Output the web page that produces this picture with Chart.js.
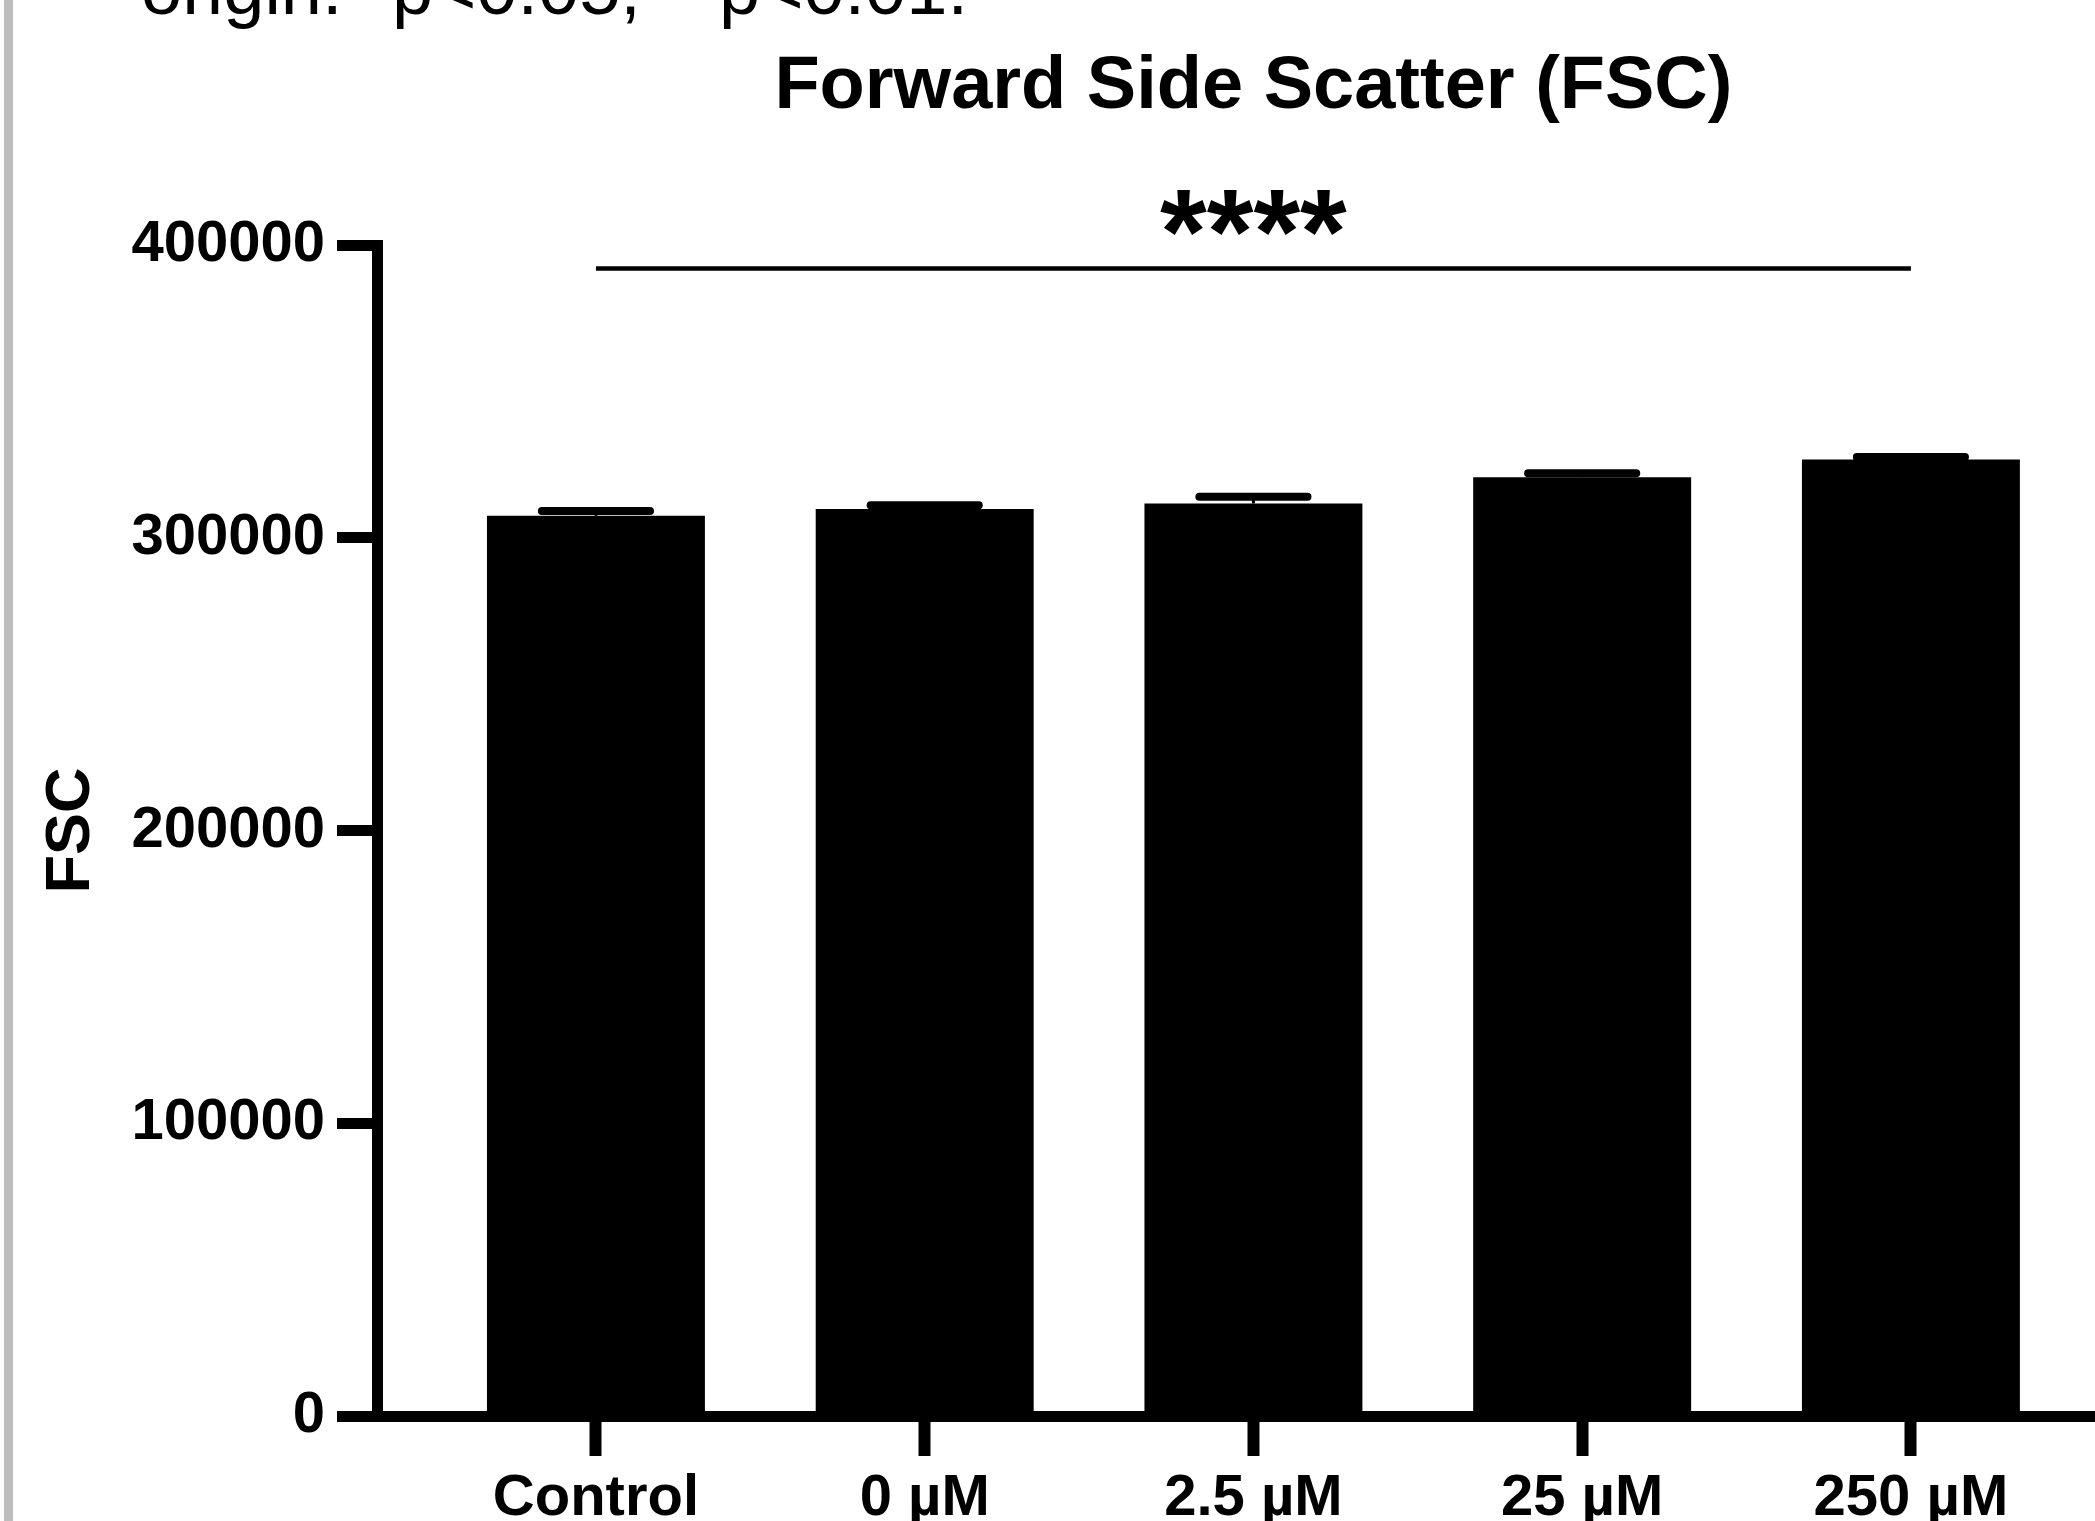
<!DOCTYPE html>
<html lang="en">
<head>
<meta charset="UTF-8">
<title>Forward Side Scatter (FSC)</title>
<script src="https://cdn.jsdelivr.net/npm/chart.js@4.4.1/dist/chart.umd.min.js"></script>
<style>
    html, body {
        margin: 0;
        padding: 0;
        background: #fff;
        overflow: hidden;
    }
    canvas {
        display: block;
    }
</style>
</head>
<body>
<canvas id="fsc-chart" width="2095" height="1521"></canvas>

<script>
    // groups and values
    const groups = ['Control', '0 µM', '2.5 µM', '25 µM', '250 µM'];
    const groupPos = [1, 2, 3, 4, 5];
    const fscMean = [307500, 309800, 311700, 320700, 326700];
    const fscSem = [1600, 1300, 2300, 1300, 900];
    const yTicks = [0, 100000, 200000, 300000, 400000];
    const sigLevel = 392000;   // height of the comparison line
    const sigText = '****';
    const noteText = 'origin. *p<0.05; **p<0.01.';

    const FONT = '"Liberation Sans", Arial, sans-serif';
    Chart.defaults.font.family = FONT;
    Chart.defaults.color = '#000';

    // extra drawing: side rule, clipped note, title, error bars, significance
    const extras = {
        id: 'extras',
        beforeDraw(chart) {
            const ctx = chart.ctx;
            const x = chart.scales.x;
            ctx.save();
            ctx.fillStyle = '#bdbdbd';
            ctx.fillRect(4, 0, 9, chart.height);

            ctx.fillStyle = '#000';
            ctx.textBaseline = 'alphabetic';
            ctx.font = '74px ' + FONT;
            ctx.textAlign = 'left';
            ctx.fillText(noteText, 141, 14);

            const cx = (x.getPixelForValue(groupPos[0]) + x.getPixelForValue(groupPos[groupPos.length - 1])) / 2;
            ctx.font = 'bold 74px ' + FONT;
            ctx.textAlign = 'center';
            ctx.fillText('Forward Side Scatter (FSC)', cx, 108);
            ctx.restore();
        },
        afterDatasetsDraw(chart) {
            const ctx = chart.ctx;
            const x = chart.scales.x;
            const y = chart.scales.y;
            const meta = chart.getDatasetMeta(0);
            ctx.save();
            ctx.strokeStyle = '#000';

            meta.data.forEach((bar, i) => {
                const top = y.getPixelForValue(fscMean[i] + fscSem[i]);
                const half = bar.width * 0.248;
                ctx.lineCap = 'butt';
                ctx.lineWidth = 3;
                ctx.beginPath();
                ctx.moveTo(bar.x, bar.y);
                ctx.lineTo(bar.x, top);
                ctx.stroke();
                ctx.lineCap = 'round';
                ctx.lineWidth = 8;
                ctx.beginPath();
                ctx.moveTo(bar.x - half, top);
                ctx.lineTo(bar.x + half, top);
                ctx.stroke();
            });

            const ly = y.getPixelForValue(sigLevel);
            const x1 = x.getPixelForValue(groupPos[0]);
            const x2 = x.getPixelForValue(groupPos[groupPos.length - 1]);
            ctx.lineCap = 'butt';
            ctx.lineWidth = 4.5;
            ctx.beginPath();
            ctx.moveTo(x1, ly);
            ctx.lineTo(x2, ly);
            ctx.stroke();

            ctx.fillStyle = '#000';
            ctx.font = 'bold 120px ' + FONT;
            ctx.textAlign = 'center';
            ctx.textBaseline = 'alphabetic';
            ctx.fillText(sigText, (x1 + x2) / 2, ly + 5);
            ctx.restore();
        }
    };

    const tickFont = { family: FONT, size: 58, weight: 'bold' };

    new Chart(document.getElementById('fsc-chart'), {
        type: 'bar',
        data: {
            datasets: [{
                data: groupPos.map((p, i) => ({ x: p, y: fscMean[i] })),
                backgroundColor: '#000',
                borderWidth: 0,
                barPercentage: 0.663,
                categoryPercentage: 1
            }]
        },
        options: {
            responsive: false,
            animation: false,
            devicePixelRatio: 1,
            layout: { padding: { top: 245, right: 0, bottom: 0, left: 0 } },
            plugins: {
                legend: { display: false },
                tooltip: { enabled: false }
            },
            scales: {
                x: {
                    type: 'linear',
                    min: 0.334,
                    max: 5.56,
                    offset: false,
                    afterBuildTicks: s => { s.ticks = groupPos.map(v => ({ value: v })); },
                    afterFit: s => { s.height = 105; },
                    border: { display: true, color: '#000', width: 11 },
                    grid: {
                        offset: false,
                        drawOnChartArea: false,
                        drawTicks: true,
                        tickLength: 40,
                        tickWidth: 12,
                        tickColor: '#000'
                    },
                    ticks: {
                        autoSkip: false,
                        maxRotation: 0,
                        color: '#000',
                        font: tickFont,
                        padding: 8,
                        callback: (v, i) => groups[i]
                    }
                },
                y: {
                    min: 0,
                    max: 400000,
                    afterBuildTicks: s => { s.ticks = yTicks.map(v => ({ value: v })); },
                    afterFit: s => { s.width = 377; },
                    border: { display: true, color: '#000', width: 11 },
                    grid: {
                        drawOnChartArea: false,
                        drawTicks: true,
                        tickLength: 40,
                        tickWidth: 11,
                        tickColor: '#000'
                    },
                    ticks: {
                        color: '#000',
                        font: tickFont,
                        padding: 12,
                        callback: v => String(v)
                    },
                    title: {
                        display: true,
                        text: 'FSC',
                        color: '#000',
                        font: { family: FONT, size: 63, weight: 'bold' },
                        padding: { top: 34, bottom: 0 }
                    }
                }
            }
        },
        plugins: [extras]
    });
</script>
</body>
</html>
